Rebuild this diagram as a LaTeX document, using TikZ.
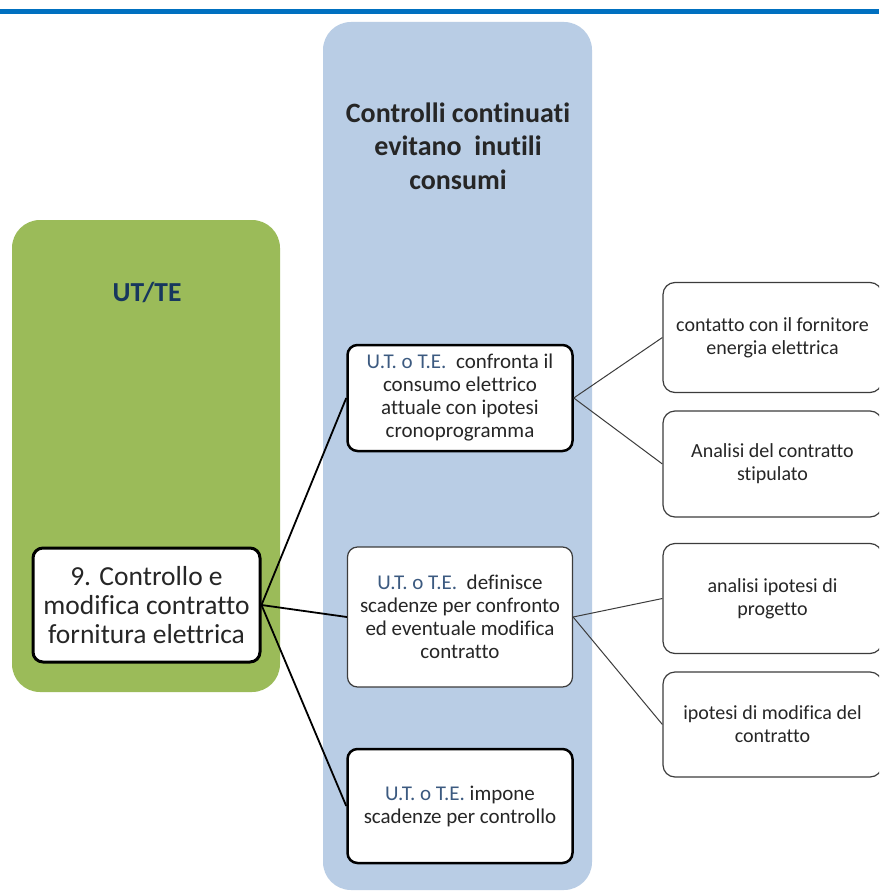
\documentclass[tikz,border=0pt]{standalone}
\usepackage{fontspec}
\setmainfont{Carlito}[Ligatures=NoCommon]
\definecolor{topline}{RGB}{0,112,192}
\definecolor{colblue}{RGB}{185,205,229}
\definecolor{colgreen}{RGB}{155,187,89}
\definecolor{headtext}{RGB}{23,55,94}
\definecolor{utlabel}{RGB}{60,90,128}
\definecolor{thinline}{RGB}{60,60,60}
\newcommand{\utte}{\textcolor{utlabel}{U.T. o T.E.}}

\begin{document}
\begin{tikzpicture}[x=1pt, y=-1pt,
    every node/.append style={align=center, inner sep=0pt, text=black!85},
    panel/.style={rounded corners=28pt},
    mainbox/.style={draw=black, fill=white, rounded corners=10pt, line width=3pt,
      minimum width=227pt, minimum height=114pt, font=\fontsize{27.5}{29}\selectfont},
    stepbox/.style={draw=black, fill=white, rounded corners=10pt, line width=2.5pt,
      minimum width=225pt, font=\fontsize{21}{23}\selectfont},
    thinstep/.style={stepbox, line width=1.2pt, draw=thinline},
    detailbox/.style={draw=thinline, fill=white, rounded corners=12pt, line width=1.2pt,
      minimum width=219pt, minimum height=110pt, font=\fontsize{20}{23}\selectfont},
    heavylink/.style={draw=black, line width=1.8pt},
    lightlink/.style={draw=thinline, line width=1pt}]

    \clip (0,0) rectangle (879,891);
    \fill[white] (0,0) rectangle (879,891);
    \draw[topline, line width=5pt] (0,12) -- (879,12);

    % background panels
    \fill[colgreen, panel] (12,220) rectangle (280,692);
    \fill[colblue, panel] (323,22) rectangle (592,890);
    \node (who) [text=headtext, font=\bfseries\fontsize{27.5}{30}\selectfont] at (147,292) {UT/TE};
    \node (goal) [font=\bfseries\fontsize{28}{33.5}\selectfont] at (458,146)
      {Controlli continuati\\evitano\ \ inutili\\consumi};

    % boxes
    \node (task) [mainbox] at (146.5,605) {9. Controllo e\\modifica contratto\\fornitura elettrica};
    \node (check) [stepbox, minimum height=106pt] at (460,398)
      {\utte\ \ confronta il\\consumo elettrico\\attuale con ipotesi\\cronoprogramma};
    \node (deadline) [thinstep, minimum height=140pt] at (460,617)
      {\utte\ \ definisce\\scadenze per confronto\\ed eventuale modifica\\contratto};
    \node (impose) [stepbox, minimum height=114pt] at (460,806)
      {\utte{} impone\\scadenze per controllo};

    \node (supplier) [detailbox] at (772.5,337.5) {contatto con il fornitore\\energia elettrica};
    \node (contract) [detailbox, minimum height=106pt] at (772.5,464) {Analisi del contratto\\stipulato};
    \node (project) [detailbox] at (772.5,598.5) {analisi ipotesi di\\progetto};
    \node (change) [detailbox, minimum height=105pt] at (772.5,724.5) {ipotesi di modifica del\\contratto};

    % connectors
    \draw[heavylink] (task.east) -- (check.west);
    \draw[heavylink] (task.east) -- (deadline.west);
    \draw[heavylink] (task.east) -- (impose.west);
    \draw[lightlink] (check.east) -- (supplier.west);
    \draw[lightlink] (check.east) -- (contract.west);
    \draw[lightlink] (deadline.east) -- (project.west);
    \draw[lightlink] (deadline.east) -- (change.west);
\end{tikzpicture}
\end{document}
